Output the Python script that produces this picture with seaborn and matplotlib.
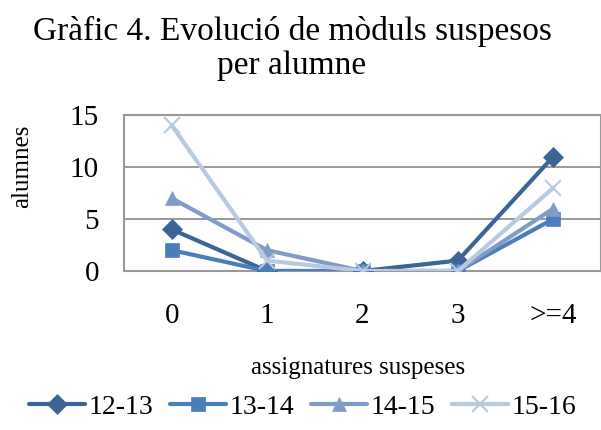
import matplotlib
matplotlib.use("Agg")
import matplotlib.pyplot as plt
import seaborn as sns
import pandas as pd

categories = ["0", "1", "2", "3", ">=4"]
s1213 = [4, 0, 0, 1, 11]
s1314 = [2, 0, 0, 0, 5]
s1415 = [7, 2, 0, 0, 6]
s1516 = [14, 1, 0, 0, 8]
series_names = ["12-13", "13-14", "14-15", "15-16"]
colors = ["#3A6596", "#4A7EBB", "#7F9CC9", "#B9C9E0"]
markers = ["D", "s", "^", "x"]

sns.set_theme(style="white")
plt.rcParams['font.family'] = ['Liberation Serif', 'DejaVu Serif']
plt.rcParams['text.color'] = 'black'

rows = []
for name, vals in zip(series_names, [s1213, s1314, s1415, s1516]):
    for i, v in enumerate(vals):
        rows.append({"x": i, "y": v, "serie": name})
df = pd.DataFrame(rows)

fig = plt.figure(figsize=(6.01, 4.30), dpi=100)
ax = fig.add_axes([124/601, 1-271/430, (601-124)/601, (271-115)/430])

for name, col, mk in zip(series_names, colors, markers):
    sub = df[df.serie == name]
    ms = 10 if mk != "x" else 12
    sns.lineplot(data=sub, x="x", y="y", ax=ax, color=col, marker=mk, markersize=ms,
                 linewidth=3, markeredgecolor=col, markeredgewidth=1.5 if mk == "x" else 0.5,
                 label=name, legend=False, zorder=3)

ax.set_xlim(-0.5, 4.5)
ax.set_ylim(0, 15)
ax.set_yticks([0, 5, 10, 15])
ax.set_xticks(range(len(categories)))
ax.set_xticklabels(categories)
ax.yaxis.grid(True, color="#888888", linewidth=1.2)
ax.set_axisbelow(True)
for sp in ax.spines.values():
    sp.set_color("#999999")
    sp.set_linewidth(1.5)
ax.tick_params(axis="both", labelsize=21, length=0, labelcolor="black")
ax.tick_params(axis="x", pad=23)
ax.tick_params(axis="y", pad=18)
ax.set_xlabel("")
ax.set_ylabel("")

fig.text(292/601, 1-31/430, "Gràfic 4. Evolució de mòduls suspesos", ha="center", va="center", fontsize=24, color="black")
fig.text(292/601, 1-66/430, "per alumne", ha="center", va="center", fontsize=24, color="black")
fig.text(358/601, 1-368/430, "assignatures suspeses", ha="center", va="center", fontsize=18, color="black")
fig.text(22/601, 1-166/430, "alumnes", ha="center", va="center", fontsize=18, rotation=90, color="black")

handles, labels = ax.get_legend_handles_labels()
leg = fig.legend(handles, labels, loc="center", bbox_to_anchor=(303/601, 1-407/430), ncol=4,
                 frameon=False, fontsize=20, handlelength=2.0, handletextpad=0.15, columnspacing=0.6)
for t in leg.get_texts():
    t.set_color("black")

fig.savefig("out.png", dpi=100)
